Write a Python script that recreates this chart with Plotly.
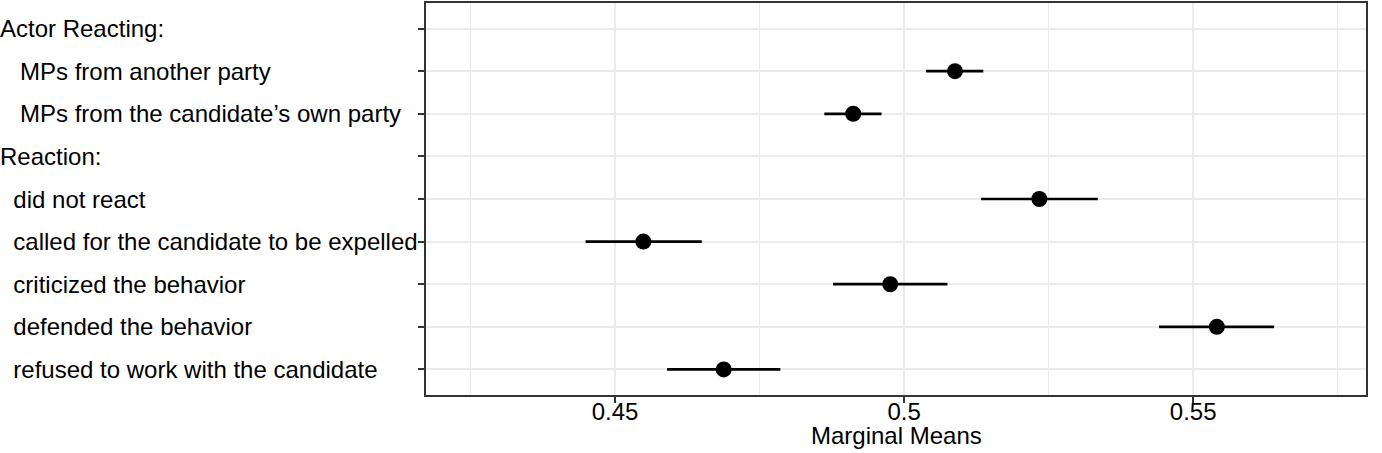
import plotly.graph_objects as go

NB = "\u00a0"
labels = [
    "Actor Reacting:",
    NB * 3 + "MPs from another party",
    NB * 3 + "MPs from the candidate\u2019s own party",
    "Reaction:",
    NB * 2 + "did not react",
    NB * 2 + "called for the candidate to be expelled",
    NB * 2 + "criticized the behavior",
    NB * 2 + "defended the behavior",
    NB * 2 + "refused to work with the candidate",
]
# None for header rows
estimate = [None, 0.5088, 0.4912, None, 0.5234, 0.4549, 0.4976, 0.5541, 0.4688]
lower = [None, 0.5038, 0.4862, None, 0.5133, 0.4449, 0.4877, 0.5441, 0.4590]
upper = [None, 0.5137, 0.4961, None, 0.5335, 0.4650, 0.5075, 0.5640, 0.4786]

x_ticks = [0.45, 0.5, 0.55]
x_tick_text = ["0.45", "0.5", "0.55"]
x_minor = [0.425, 0.475, 0.525, 0.575]
ref_value = 0.5
x_title = "Marginal Means"

rows = [i for i, e in enumerate(estimate) if e is not None]
xs = [estimate[i] for i in rows]
plus = [upper[i] - estimate[i] for i in rows]
minus = [estimate[i] - lower[i] for i in rows]

FONT = "Liberation Sans, Arial, Helvetica, sans-serif"
FS = 24
W, H = 1382, 453
ML, MR, MT, MB = 426, 16, 1, 58
plot_w = W - ML - MR
plot_h = H - MT - MB

fig = go.Figure()
fig.add_trace(go.Scatter(
    x=xs, y=rows, mode="markers",
    marker=dict(color="black", size=16),
    error_x=dict(type="data", symmetric=False, array=plus, arrayminus=minus,
                 color="black", thickness=2.7, width=0),
    showlegend=False, hoverinfo="skip",
))

fig.add_shape(type="line", xref="x", yref="paper", x0=ref_value, x1=ref_value,
              y0=0, y1=1, line=dict(color="#9a9a9a", width=1.5, dash="dot"),
              layer="below")

for i, lab in enumerate(labels):
    fig.add_annotation(
        text=lab, xref="paper", yref="y", x=-ML / plot_w, y=i, xshift=-2,
        xanchor="left", yanchor="middle", showarrow=False,
        font=dict(family=FONT, size=FS, color="black"),
    )

fig.add_annotation(
    text=x_title, xref="paper", yref="paper", x=0.5, y=-(436 - (H - MB)) / plot_h,
    xanchor="center", yanchor="middle", showarrow=False,
    font=dict(family=FONT, size=FS, color="black"),
)

fig.update_layout(
    width=W, height=H,
    margin=dict(l=ML, r=MR, t=MT, b=MB),
    paper_bgcolor="white", plot_bgcolor="white",
    font=dict(family=FONT, size=FS, color="black"),
    xaxis=dict(
        range=[0.4173, 0.5799],
        tickvals=x_ticks, ticktext=x_tick_text,
        showgrid=True, gridcolor="#ebebeb", gridwidth=2,
        minor=dict(tickvals=x_minor, showgrid=True, gridcolor="#ebebeb", gridwidth=1, ticks=""),
        showline=True, mirror=True, linecolor="#333333", linewidth=1.5,
        ticks="outside", ticklen=6, tickwidth=1.5, tickcolor="#333333",
        ticklabelstandoff=-12,
        tickfont=dict(family=FONT, size=FS, color="black"),
        zeroline=False,
    ),
    yaxis=dict(
        range=[8.6, -0.6],
        tickvals=list(range(len(labels))),
        showticklabels=False,
        showgrid=True, gridcolor="#ebebeb", gridwidth=2,
        showline=True, mirror=True, linecolor="#333333", linewidth=1.5,
        ticks="outside", ticklen=6, tickwidth=1.5, tickcolor="#333333",
        zeroline=False,
    ),
)

fig.write_html("out.html", config={"displayModeBar": False},
               post_script="document.body.style.margin='0';document.body.style.overflow='hidden';")
